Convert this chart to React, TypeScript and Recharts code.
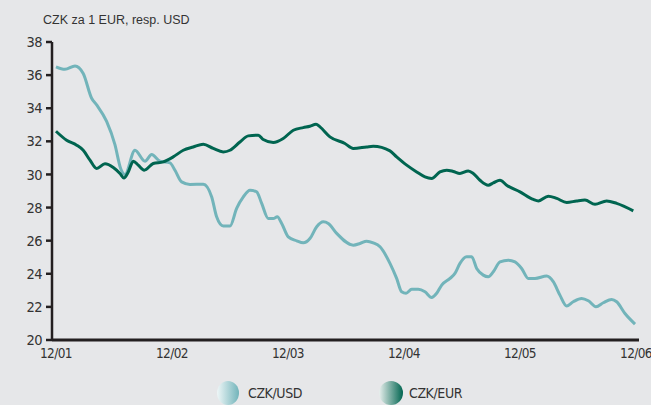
import React from 'react';
import { LineChart, Line, XAxis, YAxis } from 'recharts';

const usdMonths = [0, 0.93, 1.97, 2.82, 3.69, 4.21, 5.24, 6.1, 6.69, 7.14, 8.17, 9.21, 9.9, 10.76, 11.79, 12.31, 13.0, 13.86, 15.24, 16.11, 16.62, 17.31, 18.0, 18.69, 19.38, 20.07, 20.76, 21.28, 21.96, 22.48, 22.89, 23.35, 24.03, 24.9, 25.58, 26.27, 26.97, 27.65, 28.17, 29.04, 30.75, 31.45, 32.14, 32.82, 33.52, 34.55, 35.24, 35.76, 36.21, 36.8, 37.48, 38.17, 38.86, 39.38, 39.9, 40.76, 41.27, 41.79, 42.48, 43.0, 43.52, 44.2, 44.72, 45.24, 45.93, 46.79, 47.48, 48.17, 48.86, 49.55, 50.76, 51.44, 52.13, 52.83, 53.51, 54.38, 55.07, 55.86, 56.62, 57.48, 58.0, 58.86, 59.9];
const usdValues = [36.5, 36.35, 36.55, 36.1, 34.6, 34.2, 33.2, 31.8, 30.36, 30.0, 31.46, 30.8, 31.2, 30.8, 30.7, 30.25, 29.55, 29.4, 29.41, 28.64, 27.44, 26.88, 26.88, 27.95, 28.64, 29.05, 28.95, 28.25, 27.34, 27.34, 27.44, 27.04, 26.23, 25.99, 25.87, 26.13, 26.84, 27.14, 27.04, 26.44, 25.73, 25.83, 25.97, 25.87, 25.63, 24.63, 23.72, 22.91, 22.82, 23.06, 23.06, 22.91, 22.57, 22.82, 23.32, 23.72, 24.02, 24.63, 25.03, 25.03, 24.32, 23.92, 23.82, 24.12, 24.72, 24.82, 24.72, 24.32, 23.72, 23.72, 23.86, 23.52, 22.71, 22.05, 22.31, 22.51, 22.37, 22.01, 22.25, 22.45, 22.31, 21.6, 20.96];

const eurMonths = [0, 1.1, 2.14, 2.82, 3.52, 4.21, 5.07, 5.93, 6.62, 7.03, 7.48, 8.0, 8.51, 9.13, 10.06, 11.1, 12.13, 13.17, 14.2, 15.24, 16.27, 17.31, 18.0, 19.03, 19.89, 20.93, 21.44, 22.48, 23.51, 24.55, 25.58, 26.27, 26.9, 27.31, 28.34, 29.89, 30.75, 32.14, 32.82, 34.55, 35.24, 36.28, 37.31, 38.17, 38.86, 39.72, 40.42, 41.1, 41.79, 42.65, 43.17, 43.86, 44.72, 45.24, 45.93, 46.62, 48.0, 49.38, 49.9, 50.93, 51.8, 52.83, 53.86, 54.72, 55.76, 56.96, 58.0, 59.72];
const eurValues = [32.61, 32.07, 31.77, 31.46, 30.86, 30.36, 30.64, 30.42, 30.06, 29.79, 30.15, 30.8, 30.56, 30.26, 30.66, 30.76, 31.06, 31.46, 31.66, 31.83, 31.57, 31.36, 31.46, 31.96, 32.33, 32.37, 32.11, 31.93, 32.17, 32.67, 32.83, 32.91, 33.03, 32.87, 32.27, 31.87, 31.57, 31.66, 31.7, 31.42, 31.06, 30.56, 30.15, 29.85, 29.76, 30.15, 30.26, 30.18, 30.06, 30.21, 30.06, 29.65, 29.35, 29.49, 29.65, 29.35, 28.95, 28.49, 28.4, 28.69, 28.55, 28.31, 28.4, 28.45, 28.2, 28.4, 28.25, 27.8];

const xTickMonths = [0, 12, 24, 36, 48, 60];
const xTickLabels = ['12/01', '12/02', '12/03', '12/04', '12/05', '12/06'];
const yTicks = [20, 22, 24, 26, 28, 30, 32, 34, 36, 38];

const seriesNames = ['CZK/USD', 'CZK/EUR'];

const usdData = usdMonths.map((m, i) => ({ m, v: usdValues[i] }));
const eurData = eurMonths.map((m, i) => ({ m, v: eurValues[i] }));

const BG = '#e6e7e9';
const INK = '#231f20';
const USD_COLOR = '#72b4ba';
const EUR_COLOR = '#006550';
const FONT = "'Liberation Sans Narrow', 'DejaVu Sans Condensed', 'Roboto Condensed', 'Liberation Sans', sans-serif";

const LegendBlock = () => (
  <svg width={651} height={25} style={{ display: 'block', position: 'absolute', left: 0, top: 381 }}>
    <defs>
      <linearGradient id="gUsd" x1="0" y1="0" x2="1" y2="0">
        <stop offset="0%" stopColor="#eef6f7" />
        <stop offset="100%" stopColor={USD_COLOR} />
      </linearGradient>
      <linearGradient id="gEur" x1="0" y1="0" x2="1" y2="0">
        <stop offset="0%" stopColor="#e8efed" />
        <stop offset="100%" stopColor={EUR_COLOR} />
      </linearGradient>
    </defs>
    <ellipse cx={228} cy={12} rx={11} ry={12} fill="url(#gUsd)" />
    <text x={248} y={17} fontSize={14} fill="#333" fontFamily={FONT} letterSpacing={-0.4}>{seriesNames[0]}</text>
    <ellipse cx={391} cy={12} rx={12} ry={12} fill="url(#gEur)" />
    <text x={409} y={17} fontSize={14} fill="#333" fontFamily={FONT} letterSpacing={-0.4}>{seriesNames[1]}</text>
  </svg>
);

export default function App() {
  return (
    <div style={{ position: 'fixed', left: 0, top: 0, width: 651, height: 405, background: BG, overflow: 'hidden' }}>
      <div style={{ position: 'absolute', left: 43, top: 13, fontFamily: "'Liberation Sans', Arial, sans-serif", fontSize: 12.5, color: '#333' }}>
        CZK za 1 EUR, resp. USD
      </div>
      <LineChart width={651} height={405} margin={{ top: 42, right: 12, bottom: 35, left: 0 }}>
        <XAxis
          dataKey="m"
          type="number"
          domain={[-0.41, 60.31]}
          ticks={xTickMonths}
          tickFormatter={(v: number) => xTickLabels[xTickMonths.indexOf(v)]}
          tickLine={false}
          tickSize={6}
          tickMargin={2}
          height={30}
          axisLine={{ stroke: INK, strokeWidth: 3 }}
          tick={{ fill: '#333', fontSize: 13.5, fontFamily: FONT, letterSpacing: -0.6 }}
          allowDuplicatedCategory={false}
        />
        <YAxis
          type="number"
          domain={[20, 38]}
          ticks={yTicks}
          width={52}
          tickSize={6}
          tickMargin={4}
          axisLine={{ stroke: INK, strokeWidth: 2.5 }}
          tickLine={{ stroke: INK, strokeWidth: 2.5 }}
          tick={{ fill: '#333', fontSize: 14.5, fontFamily: FONT, letterSpacing: -0.6 }}
          interval={0}
        />
        <Line data={usdData} dataKey="v" name={seriesNames[0]} type="monotone" stroke={USD_COLOR} strokeWidth={3} dot={false} isAnimationActive={false} />
        <Line data={eurData} dataKey="v" name={seriesNames[1]} type="monotone" stroke={EUR_COLOR} strokeWidth={3} dot={false} isAnimationActive={false} />
      </LineChart>
      <LegendBlock />
    </div>
  );
}
